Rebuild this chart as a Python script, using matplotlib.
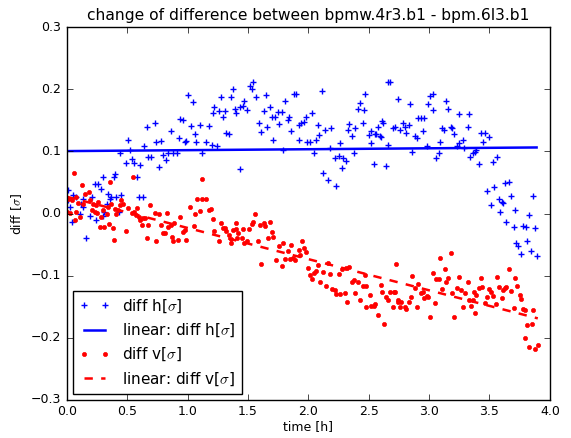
import matplotlib
matplotlib.use('Agg')
import matplotlib.pyplot as plt
import numpy as np

plt.style.use('classic')

# horizontal difference (time [h], diff [sigma])
t_h = [0.01, 0.01, 0.025, 0.047, 0.05, 0.075, 0.11, 0.12, 0.135, 0.135, 0.157, 0.19, 0.21, 0.23,
       0.245, 0.26, 0.28, 0.30, 0.30, 0.31, 0.33, 0.34, 0.36, 0.37, 0.39, 0.40, 0.41, 0.43, 0.44,
       0.45, 0.49, 0.51, 0.52, 0.54, 0.56, 0.58, 0.60, 0.61, 0.63, 0.64, 0.66, 0.67, 0.70, 0.73,
       0.74, 0.76, 0.78, 0.80, 0.82, 0.84, 0.86, 0.88, 0.91, 0.925, 0.94, 0.96, 0.98, 0.99, 1.0,
       1.03, 1.046, 1.06, 1.07, 1.10, 1.12, 1.15, 1.18, 1.20, 1.21, 1.22, 1.245, 1.26, 1.28, 1.29,
       1.31, 1.32, 1.34, 1.36, 1.38, 1.39, 1.40, 1.43, 1.43, 1.46, 1.47, 1.49, 1.52, 1.53, 1.54,
       1.57, 1.59, 1.61, 1.63, 1.65, 1.66, 1.68, 1.70, 1.71, 1.72, 1.75, 1.76, 1.78, 1.79, 1.81,
       1.83, 1.84, 1.86, 1.88, 1.90, 1.92, 1.92, 1.94, 1.96, 1.98, 1.99, 2.01, 2.03, 2.05, 2.06,
       2.08, 2.09, 2.11, 2.12, 2.14, 2.16, 2.18, 2.19, 2.22, 2.23, 2.25, 2.26, 2.28, 2.29, 2.31,
       2.33, 2.34, 2.36, 2.38, 2.39, 2.41, 2.43, 2.45, 2.46, 2.47, 2.50, 2.52, 2.52, 2.54, 2.55,
       2.56, 2.58, 2.59, 2.60, 2.61, 2.62, 2.64, 2.66, 2.66, 2.68, 2.70, 2.72, 2.74, 2.76, 2.78,
       2.80, 2.81, 2.83, 2.84, 2.86, 2.88, 2.90, 2.91, 2.93, 2.95, 2.96, 2.98, 2.99, 3.01, 3.03,
       3.03, 3.06, 3.08, 3.09, 3.11, 3.12, 3.14, 3.16, 3.18, 3.19, 3.21, 3.23, 3.25, 3.25, 3.28,
       3.29, 3.32, 3.33, 3.34, 3.36, 3.38, 3.39, 3.41, 3.43, 3.45, 3.46, 3.48, 3.50, 3.51, 3.53,
       3.54, 3.56, 3.58, 3.59, 3.60, 3.61, 3.63, 3.64, 3.66, 3.68, 3.70, 3.71, 3.72, 3.74, 3.76,
       3.78, 3.80, 3.81, 3.83, 3.84, 3.86, 3.88, 3.89]
diff_h = [0.038, 0.022, 0.011, -0.013, 0.030, 0.027, 0.0, 0.016, 0.023, 0.011, -0.040, -0.004, 0.027,
          0.047, -0.010, 0.047, 0.039, 0.058, -0.004, 0.003, 0.016, 0.032, 0.023, 0.027, 0.059, 0.063,
          0.027, 0.003, 0.097, 0.030, 0.081, 0.119, 0.102, 0.087, 0.081, 0.058, 0.027, 0.078, 0.027,
          0.108, 0.139, 0.091, 0.091, 0.145, 0.115, 0.075, 0.117, 0.094, 0.086, 0.097, 0.133, 0.097,
          0.097, 0.122, 0.152, 0.150, 0.115, 0.117, 0.190, 0.141, 0.180, 0.128, 0.115, 0.143, 0.097,
          0.115, 0.141, 0.110, 0.162, 0.172, 0.108, 0.165, 0.187, 0.156, 0.165, 0.129, 0.128, 0.188,
          0.200, 0.169, 0.162, 0.171, 0.071, 0.173, 0.181, 0.167, 0.205, 0.200, 0.212, 0.187, 0.145,
          0.132, 0.165, 0.190, 0.140, 0.171, 0.155, 0.118, 0.155, 0.164, 0.144, 0.163, 0.103, 0.181,
          0.150, 0.156, 0.133, 0.192, 0.193, 0.143, 0.119, 0.145, 0.148, 0.155, 0.115, 0.115, 0.162,
          0.098, 0.118, 0.143, 0.126, 0.197, 0.065, 0.135, 0.054, 0.106, 0.137, 0.089, 0.044, 0.093,
          0.114, 0.073, 0.090, 0.085, 0.135, 0.144, 0.125, 0.097, 0.137, 0.169, 0.178, 0.145, 0.166,
          0.192, 0.127, 0.133, 0.113, 0.080, 0.128, 0.128, 0.140, 0.125, 0.123, 0.149, 0.146, 0.077,
          0.110, 0.212, 0.211, 0.137, 0.139, 0.184, 0.134, 0.146, 0.140, 0.129, 0.142, 0.177, 0.099,
          0.125, 0.122, 0.153, 0.154, 0.133, 0.153, 0.108, 0.176, 0.189, 0.193, 0.166, 0.090, 0.097,
          0.115, 0.137, 0.134, 0.181, 0.168, 0.140, 0.138, 0.128, 0.108, 0.113, 0.160, 0.119, 0.106,
          0.139, 0.160, 0.091, 0.097, 0.099, 0.102, 0.079, 0.130, 0.115, 0.129, 0.037, 0.123, 0.014,
          0.083, 0.043, 0.091, 0.023, 0.003, 0.019, 0.017, 0.049, -0.013, 0.051, 0.028, -0.022, 0.006,
          -0.047, -0.053, -0.065, -0.020, -0.022, -0.044, -0.002, -0.061, 0.028, -0.023, -0.068]

# vertical difference
t_v = [0.0, 0.01, 0.025, 0.04, 0.058, 0.066, 0.075, 0.075, 0.09, 0.11, 0.127, 0.13, 0.15, 0.18, 0.196,
       0.21, 0.218, 0.23, 0.24, 0.25, 0.26, 0.273, 0.287, 0.296, 0.31, 0.33, 0.34, 0.35, 0.36, 0.37,
       0.38, 0.39, 0.40, 0.41, 0.425, 0.44, 0.45, 0.466, 0.49, 0.51, 0.536, 0.544, 0.555, 0.57, 0.58,
       0.60, 0.61, 0.62, 0.63, 0.65, 0.66, 0.67, 0.69, 0.73, 0.74, 0.76, 0.78, 0.80, 0.81, 0.83, 0.84,
       0.86, 0.87, 0.88, 0.89, 0.92, 0.94, 0.96, 0.98, 0.99, 1.02, 1.05, 1.06, 1.08, 1.10, 1.12, 1.12,
       1.15, 1.18, 1.19, 1.21, 1.22, 1.26, 1.28, 1.29, 1.31, 1.32, 1.34, 1.36, 1.36, 1.38, 1.40, 1.41,
       1.405, 1.42, 1.45, 1.46, 1.47, 1.49, 1.51, 1.53, 1.54, 1.56, 1.58, 1.60, 1.61, 1.63, 1.64, 1.67,
       1.68, 1.70, 1.71, 1.73, 1.76, 1.78, 1.79, 1.81, 1.83, 1.85, 1.86, 1.87, 1.89, 1.92, 1.93, 1.95,
       1.96, 1.98, 2.00, 2.01, 2.03, 2.05, 2.06, 2.08, 2.10, 2.12, 2.15, 2.16, 2.18, 2.20, 2.22, 2.23,
       2.25, 2.26, 2.28, 2.30, 2.31, 2.32, 2.34, 2.36, 2.38, 2.39, 2.41, 2.43, 2.45, 2.47, 2.48, 2.48,
       2.51, 2.52, 2.54, 2.55, 2.58, 2.60, 2.61, 2.63, 2.64, 2.66, 2.68, 2.70, 2.71, 2.73, 2.74, 2.72,
       2.74, 2.76, 2.77, 2.80, 2.81, 2.83, 2.85, 2.86, 2.88, 2.90, 2.91, 2.93, 2.95, 2.96, 2.98, 2.99,
       3.01, 3.03, 3.05, 3.06, 3.08, 3.09, 3.11, 3.13, 3.14, 3.16, 3.18, 3.19, 3.21, 3.23, 3.25, 3.26,
       3.28, 3.30, 3.32, 3.33, 3.35, 3.36, 3.37, 3.38, 3.39, 3.41, 3.43, 3.44, 3.46, 3.48, 3.50, 3.51,
       3.53, 3.55, 3.56, 3.58, 3.60, 3.61, 3.63, 3.64, 3.66, 3.68, 3.70, 3.71, 3.73, 3.75, 3.76, 3.78,
       3.79, 3.79, 3.81, 3.83, 3.85, 3.86, 3.88, 3.90]
diff_v = [0.003, 0.024, 0.001, 0.022, 0.066, -0.010, 0.027, 0.003, 0.017, -0.005, 0.046, 0.016, 0.031,
          0.035, 0.021, 0.006, 0.016, 0.003, 0.014, 0.001, 0.019, -0.021, -0.005, 0.006, -0.021, 0.0,
          0.011, -0.017, 0.051, 0.016, -0.023, -0.043, 0.008, 0.0, 0.006, 0.014, 0.022, 0.016, -0.028,
          0.009, 0.001, 0.059, 0.003, -0.002, 0.009, -0.005, -0.010, -0.018, -0.008, -0.008, -0.040,
          -0.018, 0.014, 0.001, -0.045, -0.001, -0.018, -0.032, -0.031, 0.001, -0.021, -0.018, -0.037,
          -0.045, -0.015, -0.043, -0.005, -0.029, -0.027, -0.043, 0.011, -0.020, 0.0, 0.024, 0.004,
          0.023, 0.055, 0.023, 0.006, 0.008, -0.009, -0.028, -0.045, -0.016, -0.024, -0.024, -0.028,
          -0.035, -0.041, -0.048, -0.027, -0.016, -0.040, -0.025, -0.032, -0.040, -0.025, -0.047, -0.044,
          -0.025, -0.017, -0.013, -0.001, -0.045, -0.018, -0.081, -0.016, -0.020, -0.040, -0.013, -0.030,
          -0.038, -0.075, -0.053, -0.084, -0.048, -0.074, -0.061, -0.074, -0.050, -0.072, -0.075, -0.059,
          -0.067, -0.045, -0.055, -0.062, -0.088, -0.099, -0.106, -0.095, -0.092, -0.083, -0.110, -0.094,
          -0.116, -0.080, -0.097, -0.122, -0.123, -0.130, -0.097, -0.130, -0.089, -0.128, -0.088, -0.143,
          -0.086, -0.110, -0.107, -0.128, -0.110, -0.139, -0.117, -0.099, -0.117, -0.151, -0.131, -0.149,
          -0.149, -0.146, -0.163, -0.115, -0.126, -0.178, -0.134, -0.139, -0.126, -0.151, -0.126, -0.082,
          -0.139, -0.126, -0.142, -0.151, -0.142, -0.151, -0.154, -0.142, -0.135, -0.100, -0.120, -0.150,
          -0.113, -0.128, -0.127, -0.136, -0.133, -0.134, -0.166, -0.095, -0.144, -0.106, -0.106, -0.072,
          -0.122, -0.090, -0.110, -0.104, -0.063, -0.128, -0.167, -0.120, -0.102, -0.123, -0.151, -0.128,
          -0.110, -0.140, -0.149, -0.140, -0.127, -0.160, -0.131, -0.120, -0.103, -0.119, -0.144, -0.135,
          -0.122, -0.126, -0.133, -0.145, -0.102, -0.119, -0.136, -0.123, -0.120, -0.118, -0.089, -0.125,
          -0.152, -0.103, -0.116, -0.131, -0.137, -0.154, -0.155, -0.200, -0.179, -0.215, -0.178, -0.155,
          -0.218, -0.211]

# linear fits: [slope per h, intercept]
fit_h = [0.0015, 0.1005]
fit_v = [-0.0502, 0.027]

fig = plt.figure(figsize=(5.71, 4.38), dpi=100, facecolor='white')
ax = fig.add_subplot(1, 1, 1)
fig.subplots_adjust(left=0.117, right=0.963, bottom=0.087, top=0.938)

tf_h = np.array([min(t_h), max(t_h)])
tf_v = np.array([min(t_v), max(t_v)])

ax.plot(t_h, diff_h, 'b+', ms=4.5, mew=1, label=r'diff h[$\sigma$]')
ax.plot(tf_h, fit_h[0] * tf_h + fit_h[1], 'b-', lw=1.8, label=r'linear: diff h[$\sigma$]')
ax.plot(t_v, diff_v, 'ro', ms=3, mec='r', label=r'diff v[$\sigma$]')
ax.plot(tf_v, fit_v[0] * tf_v + fit_v[1], 'r--', lw=1.8, label=r'linear: diff v[$\sigma$]')

ax.set_xlim(0, 4)
ax.set_ylim(-0.3, 0.3)
ax.set_xticks(np.arange(0, 4.01, 0.5))
ax.set_yticks(np.arange(-0.3, 0.31, 0.1))
ax.tick_params(labelsize=9)
ax.set_xlabel('time [h]', fontsize=9, labelpad=1)
ax.set_ylabel(r'diff [$\sigma$]', fontsize=9)
ax.set_title('change of difference between bpmw.4r3.b1 - bpm.6l3.b1', fontsize=11.2)

ax.legend(loc='lower left', numpoints=2, fontsize=11, borderaxespad=0.4,
          labelspacing=0.45, handlelength=2.0)

fig.savefig('out.png', dpi=100, facecolor='white')
